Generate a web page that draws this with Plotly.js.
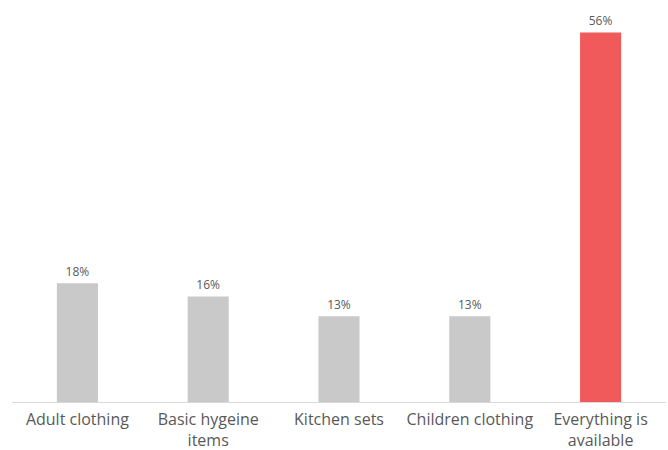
<!DOCTYPE html>
<html><head><meta charset="utf-8">
<script src="https://cdn.plot.ly/plotly-3.0.1.min.js"></script>
<style>html,body{margin:0;padding:0;background:#fff}</style>
</head><body>
<div id="chart" style="width:668px;height:450px"></div>
<script>
const categories = ["Adult clothing", "Basic hygeine<br>items", "Kitchen sets", "Children clothing", "Everything is<br>available"];
const values = [18, 16, 13, 13, 56];
const labels = ["18%", "16%", "13%", "13%", "56%"];
const colors = ["#C9C9CA", "#C9C9CA", "#C9C9CA", "#C9C9CA", "#F05A5B"];

Plotly.newPlot("chart", [{
  type: "bar",
  x: categories,
  y: values,
  text: labels,
  textposition: "outside",
  textfont: {family: "Open Sans, sans-serif", size: 12, color: "#595959"},
  marker: {color: colors},
  hoverinfo: "none",
  cliponaxis: false
}], {
  width: 668, height: 450,
  margin: {l: 12, r: 2, t: 6, b: 48},
  bargap: 0.686,
  showlegend: false,
  paper_bgcolor: "#fff", plot_bgcolor: "#fff",
  font: {family: "Open Sans, sans-serif", color: "#595959"},
  xaxis: {
    showline: true, linecolor: "#D9D9D9", linewidth: 1,
    ticks: "", tickfont: {size: 16, color: "#595959"},
    ticklabelstandoff: 3,
    showgrid: false, zeroline: false
  },
  yaxis: {range: [0, 60], visible: false, showgrid: false, zeroline: false}
}, {displayModeBar: false, staticPlot: true});
</script>
</body></html>
